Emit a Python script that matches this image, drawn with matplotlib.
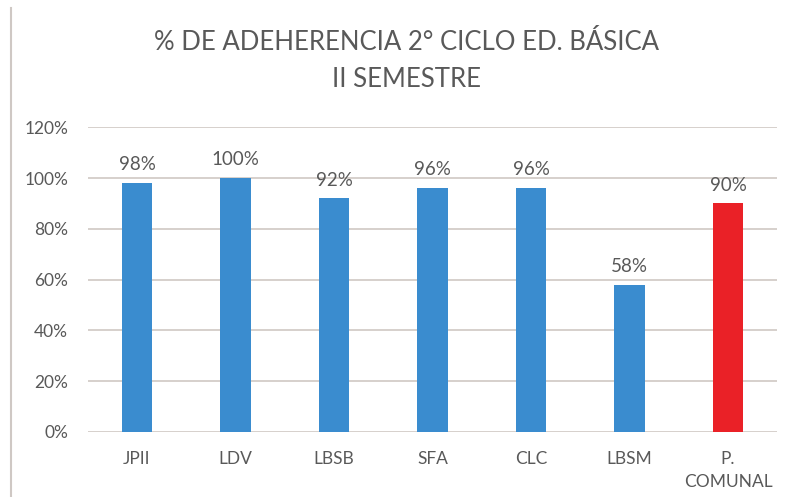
import matplotlib.pyplot as plt
from matplotlib.lines import Line2D

categories = ['JPII', 'LDV', 'LBSB', 'SFA', 'CLC', 'LBSM', 'P.\nCOMUNAL']
values = [98, 100, 92, 96, 96, 58, 90]
colors = ['#3a8ccf'] * 6 + ['#ea2127']
yticks = [0, 20, 40, 60, 80, 100, 120]

plt.rcParams['font.family'] = ['Lato', 'DejaVu Sans']
txt = '#595959'

fig = plt.figure(figsize=(7.9, 4.97), dpi=100)
ax = fig.add_axes([0.111, 0.131, 0.873, 0.613])

x = range(len(categories))
ax.bar(x, values, width=0.31, color=colors, zorder=3)
for i, v in zip(x, values):
    ax.annotate(f'{v}%', (i, v), xytext=(0, 7), textcoords='offset points',
                ha='center', va='bottom', fontsize=13.5, color=txt)

ax.set_xlim(-0.5, len(categories) - 0.5)
ax.set_ylim(0, 120)
ax.set_yticks(yticks)
ax.set_yticklabels([f'{t}%' for t in yticks])
ax.set_xticks(list(x))
ax.set_xticklabels(categories, linespacing=1.5)
ax.tick_params(axis='both', length=0, labelsize=12.5, colors=txt)
ax.tick_params(axis='x', pad=14)
ax.tick_params(axis='y', pad=14)
ax.grid(axis='y', color='#d6d0cc', linewidth=1.4, zorder=0)
for s in ax.spines.values():
    s.set_visible(False)

fig.text(0.514, 0.915, '% DE ADEHERENCIA 2° CICLO ED. BÁSICA', ha='center', va='center',
         fontsize=18.5, color=txt)
fig.text(0.514, 0.84, 'II SEMESTRE', ha='center', va='center', fontsize=18.5, color=txt)

fig.add_artist(Line2D([0.014, 0.014], [0.0, 0.984], transform=fig.transFigure,
                      color='#cfc8c4', linewidth=1.5))

fig.savefig('out.png', dpi=100)
